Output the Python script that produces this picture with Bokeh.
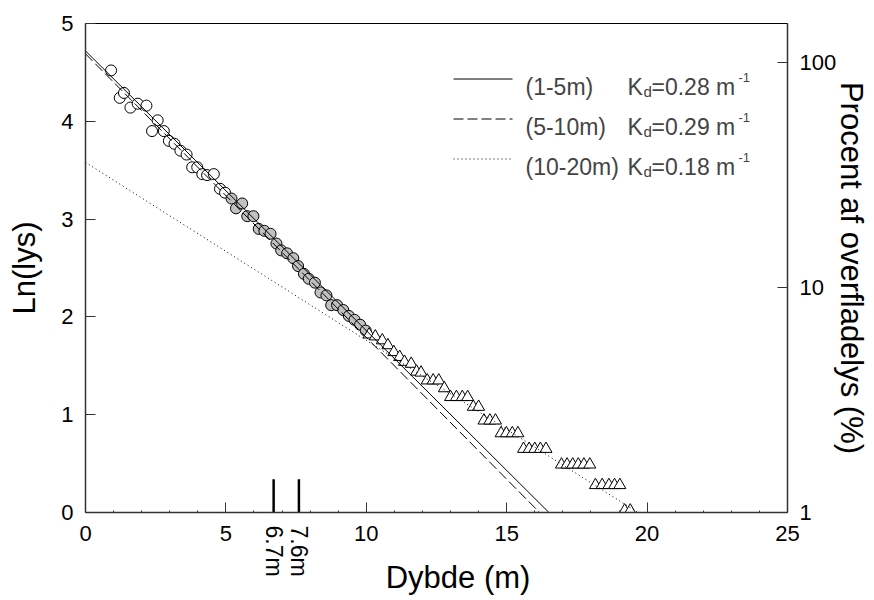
import math
from bokeh.plotting import figure
from bokeh.models import (Range1d, LinearAxis, LogAxis, LogScale, FixedTicker,
                          SingleIntervalTicker, PrintfTickFormatter, CustomJSTickFormatter, Label)
from bokeh.embed import file_html
from bokeh.resources import INLINE

# ---------------- data ----------------
open_x = [0.91, 1.22, 1.37, 1.60, 1.86, 2.17, 2.37, 2.57, 2.79, 2.97, 3.17, 3.38, 3.60,
          3.80, 3.98, 4.16, 4.33, 4.57, 4.79, 4.97]
open_y = [4.52, 4.24, 4.29, 4.14, 4.18, 4.16, 3.90, 4.01, 3.90, 3.80, 3.77, 3.70, 3.66,
          3.53, 3.53, 3.46, 3.45, 3.46, 3.31, 3.27]

grey_x = [5.20, 5.36, 5.58, 5.76, 5.98, 6.17, 6.37, 6.59, 6.80, 6.97, 7.18, 7.40, 7.57,
          7.78, 7.95, 8.17, 8.37, 8.58, 8.75, 8.96, 9.18, 9.38, 9.58, 9.78, 9.98]
grey_y = [3.21, 3.11, 3.16, 3.03, 3.03, 2.90, 2.88, 2.85, 2.75, 2.68, 2.65, 2.60, 2.52,
          2.44, 2.39, 2.35, 2.25, 2.22, 2.12, 2.12, 2.07, 2.01, 1.97, 1.92, 1.86]

tri_x = [10.10, 10.32, 10.57, 10.77, 10.98, 11.19, 11.36, 11.60, 11.79, 11.95, 12.17, 12.38,
         12.58, 12.78, 13.00, 13.21, 13.42, 13.61, 13.81, 14.00, 14.19, 14.40, 14.60, 14.80,
         14.99, 15.20, 15.40, 15.60, 15.80, 16.00, 16.20, 16.40, 16.95, 17.15, 17.35, 17.55,
         17.75, 17.96, 18.16, 18.40, 18.64, 18.84, 19.03, 19.20, 19.40]
tri_y = [1.82, 1.80, 1.76, 1.71, 1.64, 1.59, 1.54, 1.52, 1.44, 1.43, 1.35, 1.35,
         1.35, 1.27, 1.18, 1.18, 1.18, 1.18, 1.08, 1.08, 0.94, 0.94, 0.94, 0.81,
         0.81, 0.81, 0.81, 0.65, 0.65, 0.65, 0.65, 0.65, 0.49, 0.49, 0.49, 0.49,
         0.49, 0.49, 0.28, 0.28, 0.28, 0.28, 0.28, 0.02, 0.02]

fit_names = ["(1-5m)", "(5-10m)", "(10-20m)"]
fit_kd_text = ["0.28", "0.29", "0.18"]
fit_intercept = [4.72, 4.69, 3.58]
fit_slope = [0.286, 0.290, 0.182]
fit_dash = ["solid", "10 4", "1 3"]

marker_depths = [6.7, 7.6]
marker_height = 0.34

y_ticks = [0, 1, 2, 3, 4, 5]
pct_ticks = [1, 10, 100]

FONT = "Liberation Sans"
NB = "\u00a0"

# ---------------- figure ----------------
W, H = 874, 600
FL, FR, FT, FB = 85, 787, 23, 512          # frame edges in pixels
p = figure(width=W, height=H, x_range=Range1d(0, 25), y_range=Range1d(0, 5),
           output_backend="svg", toolbar_location=None,
           min_border_left=FL, min_border_right=W - FR, min_border_top=FT,
           min_border_bottom=H - FB)
p.grid.visible = False
p.outline_line_color = "black"
p.outline_line_width = 1
p.background_fill_color = "white"
p.border_fill_color = "white"

XS = (FR - FL) / 25.0   # px per x unit
YS = (FB - FT) / 5.0    # px per y unit


def dx(px):  # pixel -> data x (layout helper for annotations)
    return (px - FL) / XS


def dy(py):  # pixel -> data y
    return (FB - py) / YS


def style_axis(ax):
    ax.axis_line_color = "#333333"
    ax.axis_line_width = 1.5
    ax.major_tick_line_color = "#333333"
    ax.minor_tick_line_color = "#333333"
    ax.major_tick_in = 10
    ax.major_tick_out = 0
    ax.major_label_text_font = FONT
    ax.major_label_text_font_size = "22px"
    ax.major_label_text_color = "black"
    ax.axis_label_text_font = FONT
    ax.axis_label_text_font_size = "31px"
    ax.axis_label_text_font_style = "normal"
    ax.axis_label_text_color = "black"


style_axis(p.xaxis[0])
style_axis(p.yaxis[0])

xa = p.xaxis[0]
xa.ticker = SingleIntervalTicker(interval=5, num_minor_ticks=5)
xa.minor_tick_in = 2
xa.minor_tick_out = 0
xa.major_label_standoff = 13

ya = p.yaxis[0]
ya.ticker = FixedTicker(ticks=y_ticks)
ya.minor_tick_line_color = None
ya.major_label_standoff = 12
ya.axis_label = "Ln(lys)"
ya.axis_label_standoff = 16

p.extra_y_ranges = {"pct": Range1d(1, math.exp(5))}
p.extra_y_scales = {"pct": LogScale()}
rax = LogAxis(y_range_name="pct", ticker=FixedTicker(ticks=pct_ticks),
              formatter=PrintfTickFormatter(format="%d"))
style_axis(rax)
rax.minor_tick_line_color = None
rax.major_label_standoff = 12
rax.axis_label = "Procent af overfladelys (%)"
rax.axis_label_standoff = -5
p.add_layout(rax, "right")

# second bottom axis: labels of the two marked depths, and the x title
mx = LinearAxis(ticker=FixedTicker(ticks=marker_depths),
                formatter=CustomJSTickFormatter(code="return tick.toFixed(1) + 'm'"))
style_axis(mx)
mx.axis_line_color = None
mx.major_tick_line_color = None
mx.minor_tick_line_color = None
mx.major_tick_in = 0
mx.major_tick_out = 0
mx.major_label_orientation = -math.pi / 2
mx.major_label_standoff = -18
mx.major_label_text_font_size = "23px"
mx.axis_label = NB * 5 + "Dybde (m)"
mx.axis_label_standoff = -20
p.add_layout(mx, "below")

# ---------------- data marks ----------------
p.scatter(open_x, open_y, marker="circle", size=11, fill_color="white",
          line_color="black", line_width=1)
p.scatter(grey_x, grey_y, marker="circle", size=11, fill_color="#c0c0c0",
          line_color="black", line_width=1)
p.scatter(tri_x, tri_y, marker="triangle", size=12, fill_color="white",
          line_color="black", line_width=1)

for b, k, d in zip(fit_intercept, fit_slope, fit_dash):
    xe = b / k
    p.line([0, xe], [b, b - k * xe], line_color="black", line_width=1, line_dash=d)

for xm in marker_depths:
    p.line([xm, xm], [0, marker_height], line_color="black", line_width=2.5)

# ---------------- legend (drawn by hand) ----------------
row_base = [86.5, 126.5, 166.5]
for i in range(3):
    yb = dy(row_base[i])
    yl = dy(row_base[i] - 8)
    p.line([dx(453), dx(512)], [yl, yl], line_color="black", line_width=1,
           line_dash=fit_dash[i])
    p.add_layout(Label(x=dx(525), y=yb, text=fit_names[i], text_font=FONT,
                       text_font_size="23px", text_baseline="alphabetic"))
    p.add_layout(Label(x=dx(627), y=yb, text="K", text_font=FONT,
                       text_font_size="23px", text_baseline="alphabetic"))
    p.add_layout(Label(x=dx(643), y=dy(row_base[i] + 4), text="d", text_font=FONT,
                       text_font_size="15px", text_baseline="alphabetic"))
    p.add_layout(Label(x=dx(651), y=yb, text="=" + fit_kd_text[i] + " m", text_font=FONT,
                       text_font_size="23px", text_baseline="alphabetic"))
    p.add_layout(Label(x=dx(738), y=dy(row_base[i] - 9.5), text="-1", text_font=FONT,
                       text_font_size="13px", text_baseline="alphabetic"))

open("out.html", "w").write(file_html(p, INLINE))
